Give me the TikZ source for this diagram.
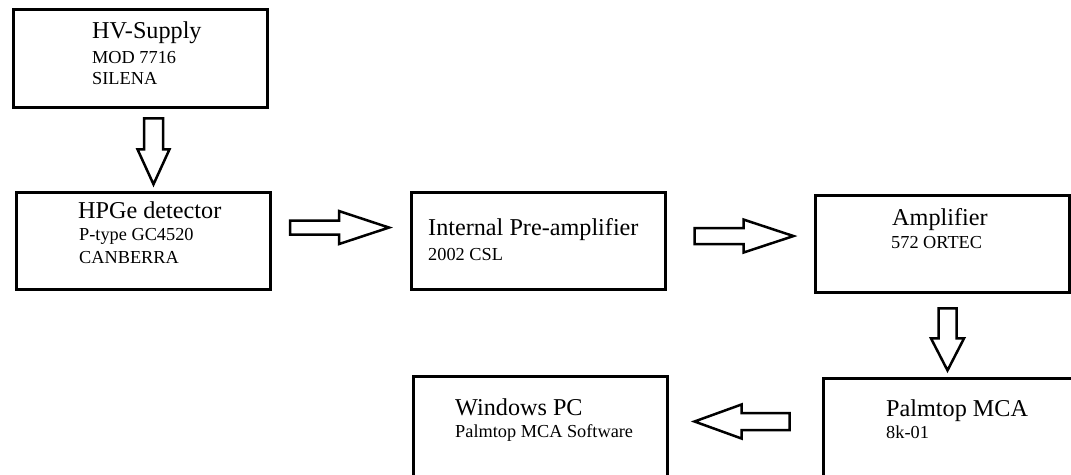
\documentclass[tikz,border=0pt]{standalone}
\usepackage{fontspec}
\setmainfont{Liberation Serif}
\usetikzlibrary{calc}

\tikzset{
  unitbox/.style={draw, line width=3pt, minimum width=254pt, minimum height=97.5pt, anchor=north west, inner sep=0pt},
  titletext/.style={anchor=base west, inner sep=0pt, font=\fontsize{24.2}{28}\selectfont},
  subtext/.style={anchor=base west, inner sep=0pt, font=\fontsize{18.3}{21}\selectfont},
  arrowline/.style={draw, line width=2.5pt, fill=white, line join=miter},
  pics/fatarrow/.style args={#1/#2/#3/#4}{code={
    \draw[arrowline] (-#1/2,#3) -- (#1/2-#2,#3) -- (#1/2-#2,#4) -- (#1/2,0)
      -- (#1/2-#2,-#4) -- (#1/2-#2,-#3) -- (-#1/2,-#3) -- cycle;
  }}
}

\begin{document}
\begin{tikzpicture}[x=1pt, y=1pt]
  \useasboundingbox (0,0) rectangle (1071,-474);
  \clip (0,0) rectangle (1071,-474);

  % Kaesten
  \node[unitbox] (hv)   at (11.5,-8.3) {};
  \node[unitbox] (hpge) at (14.5,-190.8) {};
  \node[unitbox] (pre)  at (409.5,-190.8) {};
  \node[unitbox] (amp)  at (813.5,-193.8) {};
  \node[unitbox, minimum height=110pt] (pmca) at (821.5,-376.5) {};
  \node[unitbox, minimum height=110pt] (win)  at (411.5,-374.5) {};

  % Beschriftung
  \node[titletext] (hvtitle) at (92,-38) {HV-Supply};
  \node[subtext] (hvmodel) at (92,-63) {MOD 7716};
  \node[subtext] (hvmaker) at (92,-84) {SILENA};

  \node[titletext] (hpgetitle) at (78,-218) {HPGe detector};
  \node[subtext] (hpgemodel) at (79,-240) {P-type GC4520};
  \node[subtext] (hpgemaker) at (79,-263) {CANBERRA};

  \node[titletext] (pretitle) at (428,-235) {Internal Pre-amplifier};
  \node[subtext] (premodel) at (428,-260) {2002 CSL};

  \node[titletext] (amptitle) at (892,-225) {Amplifier};
  \node[subtext] (ampmodel) at (891,-248) {572 ORTEC};

  \node[titletext] (pmcatitle) at (886,-416) {Palmtop MCA};
  \node[subtext] (pmcamodel) at (886,-438) {8k-01};

  \node[titletext] (wintitle) at (455,-415) {Windows PC};
  \node[subtext] (winsoft) at (455,-437) {Palmtop MCA Software};

  % Blockpfeile
  \pic[rotate=-90] at ($(hv.south)!.5!(hpge.north)+(12,-1.5)$) {fatarrow={66/35/9.5/16}};
  \pic at ($(hpge.east)!.5!(pre.west)+(-1,13.5)$) {fatarrow={99/50/7/16.5}};
  \pic at ($(pre.east)!.5!(amp.west)+(4,6.5)$) {fatarrow={99/50/8/16.5}};
  \pic[rotate=-90] at ($(amp.south)!.5!(pmca.north)+(1.5,-4)$) {fatarrow={62/32/9/16.5}};
  \pic[rotate=180] at ($(win.north east)!.5!(pmca.north west)+(-3,-46)$) {fatarrow={95/47/8.5/17}};
\end{tikzpicture}
\end{document}
